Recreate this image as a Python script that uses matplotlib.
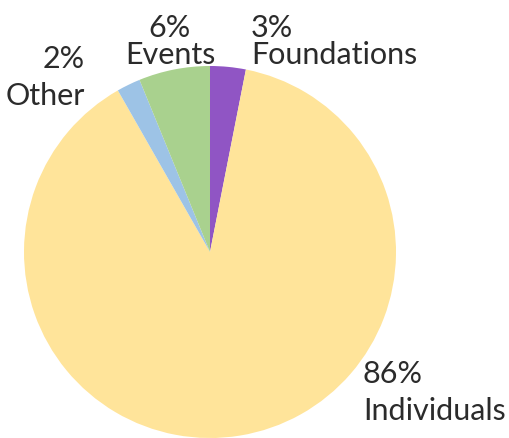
import matplotlib.pyplot as plt

categories = ['Foundations', 'Individuals', 'Other', 'Events']
values = [3, 86, 2, 6]
colors = ['#9055C4', '#FFE49A', '#9DC3E6', '#A9D18E']

W, H = 510, 438
fig = plt.figure(figsize=(W / 100, H / 100), dpi=100)

# pie centre (210, 252) px from top-left, radius 186 px
cx, cy, r = 210, 252, 186
ax = fig.add_axes([(cx - r) / W, (H - cy - r) / H, 2 * r / W, 2 * r / H])
ax.pie(values, colors=colors, startangle=90, counterclock=False,
       wedgeprops=dict(linewidth=0), radius=1)
ax.set_xlim(-1, 1)
ax.set_ylim(-1, 1)
ax.set_aspect('equal')
ax.axis('off')

txt = dict(fontsize=22, color='#2b2b2b', family=['Lato', 'DejaVu Sans'],
           va='baseline')

def label(x, y1, y2, ha, cat):
    i = categories.index(cat)
    fig.text(x / W, 1 - y1 / H, f'{values[i]}%', ha=ha, **txt)
    fig.text(x / W, 1 - y2 / H, cat, ha=ha, **txt)

label(251, 37, 64, 'left', 'Foundations')
label(170, 37, 64, 'center', 'Events')
label(85, 68, 105, 'right', 'Other')
label(363, 383, 420, 'left', 'Individuals')

fig.savefig('out.png', dpi=100)
